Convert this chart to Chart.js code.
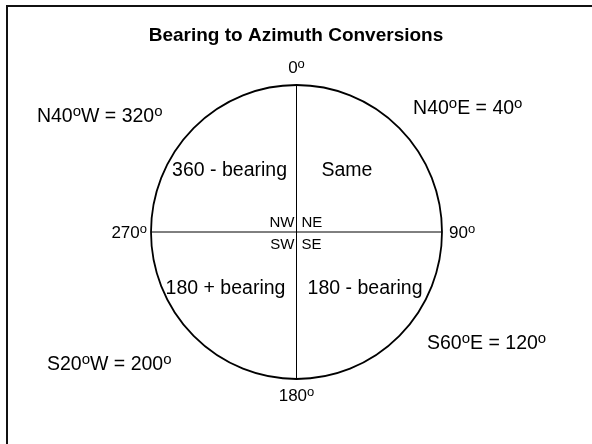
<!DOCTYPE html>
<html>
<head>
<meta charset="utf-8">
<script src="https://cdn.jsdelivr.net/npm/chart.js@4.4.1/dist/chart.umd.min.js"></script>
<style>
  body { margin: 0; background: #fff; }
  #wrap { width: 592px; height: 444px; }
</style>
</head>
<body>
<div id="wrap"><canvas id="compassChart" width="592" height="444"></canvas></div>
<script>
// Compass data (unit circle, azimuth measured clockwise from north)
const ringRadius = 1;
const cardinalAzimuths = [0, 90, 180, 270];
const cardinalLabels = ['0°', '90°', '180°', '270°'];
const quadrantNames = ['NE', 'SE', 'SW', 'NW'];
const quadrantRules = ['Same', '180 - bearing', '180 + bearing', '360 - bearing'];
const exampleBearings = ['N40°E', 'S60°E', 'S20°W', 'N40°W'];
const exampleAzimuths = [40, 120, 200, 320];
const titleText = 'Bearing to Azimuth Conversions';

// Where the annotations sit (in chart units / pixel nudges)
const cardinalOffsets = [
    { dx: 0, dy: -18, align: 'center' },
    { dx: 7, dy: 0, align: 'left' },
    { dx: 0, dy: 16, align: 'center' },
    { dx: -4, dy: 0, align: 'right' }
];
const ruleAnchors = [[0.347, 0.429], [0.471, -0.374], [-0.488, -0.374], [-0.460, 0.429]];
const exampleAnchors = [[0.801, 0.850], [0.897, -0.748], [-1.715, -0.891], [-1.784, 0.796]];
const nameOffsets = [
    { dx: 5, dy: -10, align: 'left' },
    { dx: 5, dy: 12, align: 'left' },
    { dx: -2, dy: 12, align: 'right' },
    { dx: -2, dy: -10, align: 'right' }
];

const FONT = '"Liberation Sans", Arial, Helvetica, sans-serif';

// draws text where every ° is set as a raised small "o"
function drawDegText(ctx, text, x, cy, size, align, bold) {
    const parts = text.split('°');
    const supSize = Math.round(size * 0.78);
    const font = (bold ? 'bold ' : '') + size + 'px ' + FONT;
    const supFont = supSize + 'px ' + FONT;
    let w = 0;
    parts.forEach((p, i) => {
        ctx.font = font;
        w += ctx.measureText(p).width;
        if (i < parts.length - 1) {
            ctx.font = supFont;
            w += ctx.measureText('o').width;
        }
    });
    let cx = align === 'center' ? x - w / 2 : align === 'right' ? x - w : x;
    const baseline = cy + size * 0.358;
    const supBase = baseline - size * 0.716 + supSize * 0.519;
    ctx.textAlign = 'left';
    ctx.textBaseline = 'alphabetic';
    parts.forEach((p, i) => {
        ctx.font = font;
        ctx.fillText(p, cx, baseline);
        cx += ctx.measureText(p).width;
        if (i < parts.length - 1) {
            ctx.font = supFont;
            ctx.fillText('o', cx, supBase);
            cx += ctx.measureText('o').width;
        }
    });
}

const compassPlugin = {
    id: 'compass',
    afterDatasetsDraw(chart) {
        const ctx = chart.ctx;
        const xs = chart.scales.x;
        const ys = chart.scales.y;
        const cx = xs.getPixelForValue(0);
        const cy = ys.getPixelForValue(0);
        const rx = xs.getPixelForValue(ringRadius) - cx;
        const ry = cy - ys.getPixelForValue(ringRadius);

        ctx.save();
        // frame (top and left edges only)
        ctx.fillStyle = '#111';
        ctx.fillRect(6, 5, chart.width - 6, 2);
        ctx.fillRect(6, 5, 2, chart.height - 5);

        // outer ring
        ctx.beginPath();
        ctx.ellipse(cx, cy, rx, ry, 0, 0, Math.PI * 2);
        ctx.strokeStyle = '#000';
        ctx.lineWidth = 1.8;
        ctx.stroke();

        ctx.fillStyle = '#000';
        drawDegText(ctx, titleText, chart.width / 2, 34, 19, 'center', true);

        cardinalAzimuths.forEach((az, i) => {
            const a = az * Math.PI / 180;
            const px = xs.getPixelForValue(Math.sin(a) * ringRadius);
            const py = ys.getPixelForValue(Math.cos(a) * ringRadius);
            const o = cardinalOffsets[i];
            drawDegText(ctx, cardinalLabels[i], px + o.dx, py + o.dy, 17, o.align);
        });

        quadrantNames.forEach((name, i) => {
            const o = nameOffsets[i];
            drawDegText(ctx, name, cx + o.dx, cy + o.dy, 15, o.align);
        });

        quadrantRules.forEach((rule, i) => {
            const [ux, uy] = ruleAnchors[i];
            drawDegText(ctx, rule, xs.getPixelForValue(ux), ys.getPixelForValue(uy), 19.5, 'center');
        });

        exampleBearings.forEach((b, i) => {
            const [ux, uy] = exampleAnchors[i];
            const label = b + ' = ' + exampleAzimuths[i] + '°';
            drawDegText(ctx, label, xs.getPixelForValue(ux), ys.getPixelForValue(uy), 19.5, 'left');
        });
        ctx.restore();
    }
};

// pixel scale of one unit; center sits at (296.5, 232)
const pxPerUnitX = 145.5;
const pxPerUnitY = 147;

new Chart(document.getElementById('compassChart').getContext('2d'), {
    type: 'scatter',
    data: {
        datasets: [
            {
                label: 'North-South',
                data: [{ x: 0, y: -ringRadius }, { x: 0, y: ringRadius }],
                showLine: true,
                borderColor: '#000',
                borderWidth: 1,
                pointRadius: 0
            },
            {
                label: 'East-West',
                data: [{ x: -ringRadius, y: 0 }, { x: ringRadius, y: 0 }],
                showLine: true,
                borderColor: '#000',
                borderWidth: 1,
                pointRadius: 0
            }
        ]
    },
    options: {
        responsive: false,
        animation: false,
        layout: { padding: 0 },
        plugins: {
            legend: { display: false },
            tooltip: { enabled: false }
        },
        scales: {
            x: { type: 'linear', display: false, min: -296.5 / pxPerUnitX, max: (592 - 296.5) / pxPerUnitX },
            y: { type: 'linear', display: false, min: -(444 - 232) / pxPerUnitY, max: 232 / pxPerUnitY }
        }
    },
    plugins: [compassPlugin]
});
</script>
</body>
</html>
